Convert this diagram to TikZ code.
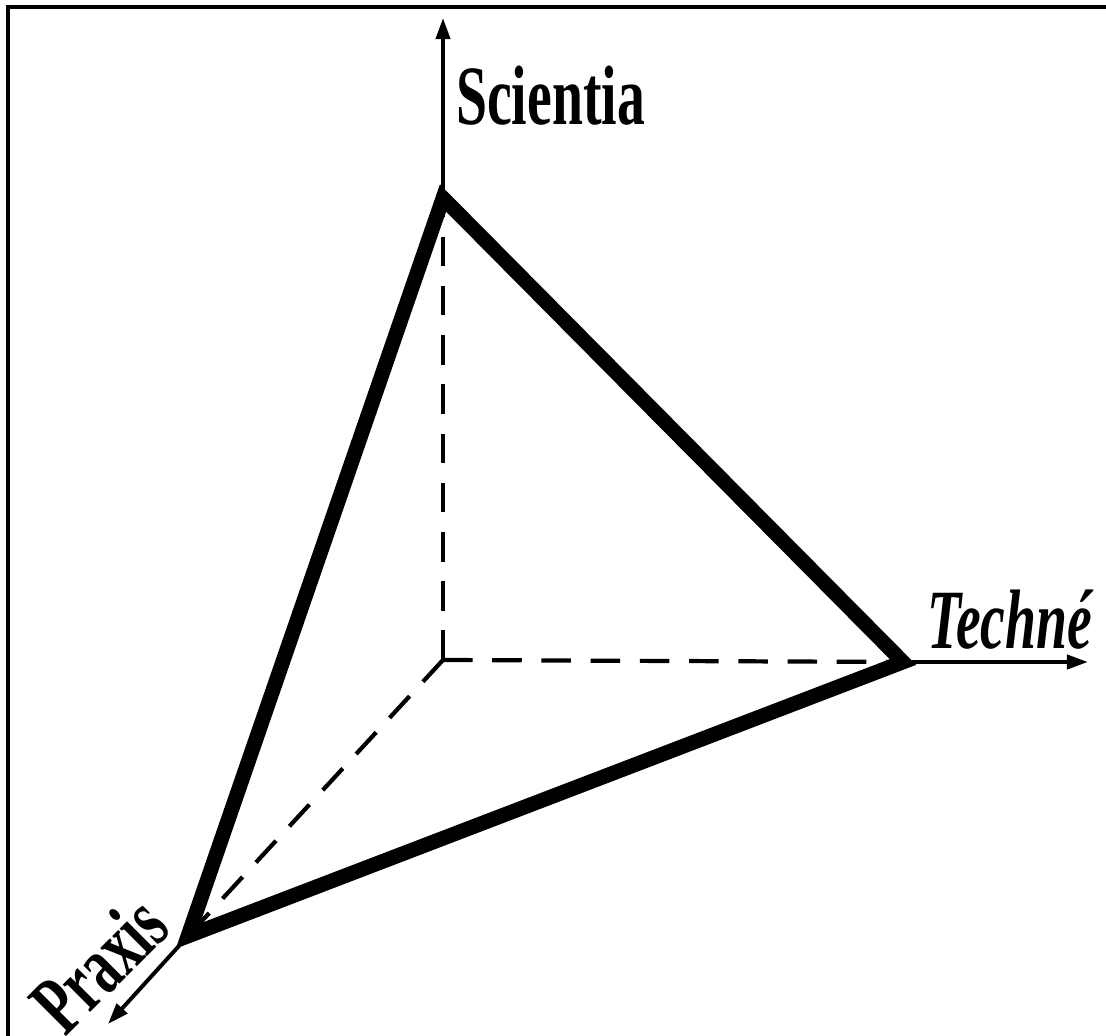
\documentclass[tikz,border=0pt]{standalone}
\usepackage{fontspec}
\setmainfont{Liberation Serif}
\usepackage{tikz}
\usetikzlibrary{arrows.meta,positioning,calc}
\newcommand{\cond}[1]{\scalebox{0.66}[1]{#1}}
\tikzset{
  frameline/.style={draw=black, line width=3pt},
  axis/.style={-{Triangle[length=15pt,width=10pt]}, line width=2.8pt},
  hidden/.style={line width=3pt, dash pattern=on 21pt off 14pt},
  edge/.style={line width=10.5pt, line join=miter, line cap=butt},
  axislabel/.style={inner sep=0pt, font=\fontsize{60}{62}\selectfont\bfseries}
}
\begin{document}
\begin{tikzpicture}[x=0.025cm, y=-0.025cm]
\useasboundingbox (0,0) rectangle (1106,1036);

% frame (only top and left edge show)
\coordinate (ftl) at (8,7);
\coordinate (ftr) at (1106,7);
\coordinate (fbl) at (8,1036);
\draw[frameline] (ftr) -- (ftl) -- (fbl);

% corners of the simplex
\coordinate (origin) at (443,660);
\coordinate (sci) at (443,198);
\coordinate (tec) at (903,662);
\coordinate (pra) at (188,936);

% axis ends
\coordinate (scitip) at (443,18);
\coordinate (tectip) at (1088,662);
\coordinate (pratip) at (108,1024);

% hidden edges
\draw[hidden] (origin) -- (sci);
\draw[hidden] (origin) -- (tec);
\draw[hidden] (origin) -- (pra);

% axes
\draw[axis] (sci) -- (scitip);
\draw[axis] (tec) -- (tectip);
\draw[axis] (pra) -- (pratip);

% triangle
\draw[edge] (sci) -- (tec) -- (pra) -- cycle;

% labels
\node[axislabel, anchor=base west] (scilabel) at (456,125) {\cond{Scientia}};
\node[axislabel, anchor=base west] (teclabel) at (927,648) {\cond{\itshape Techné}};
\node[axislabel, rotate=45] (pralabel) at (99,964) {\cond{Praxis}};
\end{tikzpicture}
\end{document}
